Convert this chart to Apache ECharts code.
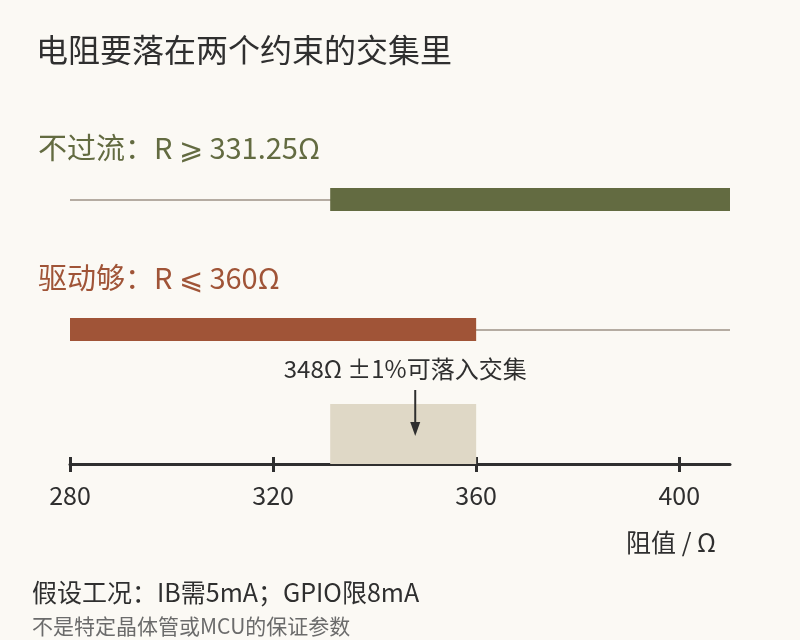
<!DOCTYPE html>
<html><head><meta charset="utf-8">
<script src="https://cdn.jsdelivr.net/npm/echarts@6/dist/echarts.min.js"></script>
<style>html,body{margin:0;padding:0;background:#fbf9f4;}#c{width:800px;height:640px;}</style>
</head><body><div id="c"></div>
<script>
// ---- data ----
const axisMin = 280;
const axisMax = 410;
const axisInterval = 40;
const tickValues = [280, 320, 360, 400];
const noOvercurrentMin = 331.25;   // 不过流: R >= 331.25
const driveEnoughMax = 360;        // 驱动够: R <= 360
const chosenR = 348;               // 348Ω ±1%
const titleText = '电阻要落在两个约束的交集里';
const axisName = '阻值 / Ω';
const noteLine1 = '假设工况：IB需5mA；GPIO限8mA';
const noteLine2 = '不是特定晶体管或MCU的保证参数';

const FONT = '"Noto Sans CJK SC", "Noto Sans", sans-serif';
const GREEN = '#636b41', RED = '#a05437', BEIGE = '#dfd8c6', GREY = '#b5aca2', DARK = '#2f2f2f';

const constraints = [
  {start: noOvercurrentMin, end: axisMax, color: GREEN, yc: 200, label: '不过流：R ⩾ ' + noOvercurrentMin + 'Ω', ly: 148},
  {start: axisMin, end: driveEnoughMax, color: RED, yc: 330, label: '驱动够：R ⩽ ' + driveEnoughMax + 'Ω', ly: 278}
];

const chart = echarts.init(document.getElementById('c'));

function barRender(params, api) {
  const c = constraints[params.dataIndex];
  const x0 = api.coord([axisMin, 0])[0];
  const x1 = api.coord([axisMax, 0])[0];
  const s = api.coord([c.start, 0])[0];
  const e = api.coord([c.end, 0])[0];
  return {type: 'group', children: [
    {type: 'line', shape: {x1: x0, y1: c.yc, x2: x1, y2: c.yc}, style: {stroke: GREY, lineWidth: 2}},
    {type: 'rect', shape: {x: s, y: c.yc - 12, width: e - s, height: 23}, style: {fill: c.color}},
    {type: 'text', x: 38, y: c.ly, style: {text: c.label, fill: c.color, font: '400 29px ' + FONT, verticalAlign: 'middle'}}
  ]};
}

function overlapRender(params, api) {
  const bottom = api.coord([axisMin, 0])[1];
  const s = api.coord([noOvercurrentMin, 0])[0];
  const e = api.coord([driveEnoughMax, 0])[0];
  const ax = api.coord([chosenR, 0])[0];
  return {type: 'group', children: [
    {type: 'rect', shape: {x: s, y: bottom - 60, width: e - s, height: 60}, style: {fill: BEIGE}},
    {type: 'line', shape: {x1: ax, y1: 390, x2: ax, y2: 424}, style: {stroke: DARK, lineWidth: 2}},
    {type: 'polygon', shape: {points: [[ax - 5, 422], [ax + 5, 422], [ax, 436]]}, style: {fill: DARK}},
    {type: 'text', x: ax - 10, y: 369, style: {text: chosenR + 'Ω ±1%可落入交集', fill: DARK, font: '400 24px ' + FONT, align: 'center', verticalAlign: 'middle'}}
  ]};
}

chart.setOption({
  backgroundColor: '#fbf9f4',
  animation: false,
  title: {text: titleText, left: 31, top: 29, textStyle: {color: DARK, fontSize: 32, fontWeight: 'normal', fontFamily: FONT}},
  grid: {left: 70, right: 70, top: 100, bottom: 176},
  xAxis: [{
    type: 'value', min: axisMin, max: axisMax, interval: axisInterval, position: 'bottom',
    axisLine: {show: true, lineStyle: {color: DARK, width: 3}},
    axisTick: {show: true, length: 8, customValues: tickValues, lineStyle: {color: DARK, width: 3}},
    axisLabel: {color: DARK, fontSize: 25, fontFamily: FONT, margin: 19, customValues: tickValues},
    splitLine: {show: false}
  }, {
    type: 'value', min: axisMin, max: axisMax, interval: axisInterval, position: 'bottom',
    axisLine: {show: false},
    axisTick: {show: true, inside: true, length: 7, customValues: tickValues, lineStyle: {color: DARK, width: 3}},
    axisLabel: {show: false}, splitLine: {show: false}
  }],
  yAxis: {type: 'value', min: 0, max: 1, show: false},
  graphic: [
    {type: 'text', right: 84, top: 530, style: {text: axisName, fill: DARK, font: '400 25px ' + FONT}},
    {type: 'text', left: 32, top: 580, style: {text: noteLine1, fill: DARK, font: '400 25px ' + FONT}},
    {type: 'text', left: 32, top: 616, style: {text: noteLine2, fill: '#6b6b6b', font: '400 21px ' + FONT}}
  ],
  series: [
    {type: 'custom', renderItem: overlapRender, data: [[chosenR, 0]], z: 1, silent: true},
    {type: 'custom', renderItem: barRender, data: constraints.map(c => [c.start, c.end]), z: 2, silent: true}
  ]
});
</script></body></html>
